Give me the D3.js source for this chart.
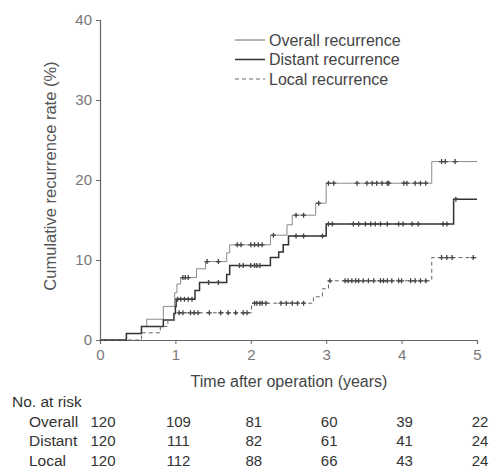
<!DOCTYPE html>
<html><head><meta charset="utf-8">
<script src="https://cdn.jsdelivr.net/npm/d3@7"></script>
<style>
html,body{margin:0;padding:0;background:#fff;}
svg{display:block;font-family:"Liberation Sans",Arial,sans-serif;}
</style></head>
<body><svg id="c" width="489" height="468"></svg>
<script>
// ---- data ----
const yTicks = [0, 10, 20, 30, 40];
const xTicks = [0, 1, 2, 3, 4, 5];
const seriesNames = ["Overall recurrence", "Distant recurrence", "Local recurrence"];

const overallSteps = [[0,0],[0.35,0.8],[0.55,1.7],[0.62,2.6],[0.84,4.2],[0.99,5.9],[1.02,7.0],[1.07,7.8],[1.28,8.9],[1.4,9.8],[1.68,10.9],[1.72,11.9],[2.26,13.1],[2.48,14.4],[2.55,15.6],[2.86,17.1],[3.0,19.6],[4.4,22.3]];
const distantSteps = [[0,0],[0.35,0.8],[0.55,1.7],[0.84,2.5],[0.98,3.3],[1.0,4.2],[1.01,5.1],[1.26,6.2],[1.32,7.2],[1.68,8.2],[1.72,9.3],[2.26,10.3],[2.37,11.0],[2.43,11.9],[2.5,13.0],[3.0,14.5],[4.69,17.6]];
const localSteps = [[0,0],[0.55,0.9],[0.8,1.7],[0.9,2.5],[0.99,3.4],[2.01,4.6],[2.83,5.4],[2.95,6.4],[3.03,7.4],[4.4,10.3]];

const overallCensor = [1.1,1.13,1.17,1.42,1.57,1.82,1.87,2.0,2.05,2.1,2.15,2.3,2.6,2.7,2.9,3.03,3.1,3.41,3.54,3.61,3.67,3.74,3.81,3.83,4.03,4.07,4.18,4.25,4.32,4.53,4.58,4.71];
const distantCensor = [1.03,1.07,1.12,1.17,1.22,1.44,1.57,1.85,1.9,2.0,2.05,2.08,2.12,2.6,2.7,2.95,3.03,3.08,3.36,3.43,3.52,3.59,3.65,3.72,3.81,3.96,4.02,4.14,4.22,4.55,4.6,4.72];
const localCensor = [1.05,1.1,1.2,1.25,1.3,1.45,1.6,1.7,1.8,1.9,1.95,2.05,2.08,2.12,2.15,2.2,2.4,2.47,2.55,2.62,2.7,3.05,3.25,3.29,3.34,3.39,3.43,3.49,3.56,3.63,3.72,3.76,3.81,3.87,3.96,4.0,4.12,4.18,4.25,4.32,4.53,4.6,4.67,4.95];

const riskLabels = ["Overall", "Distant", "Local"];
const riskOverall = [120, 109, 81, 60, 39, 22];
const riskDistant = [120, 111, 82, 61, 41, 24];
const riskLocal = [120, 112, 88, 66, 43, 24];

// ---- drawing ----
const svg = d3.select("#c");
const x = d3.scaleLinear().domain([0, 5]).range([100, 477]);
const y = d3.scaleLinear().domain([0, 40]).range([340, 20]);
const axisCol = "#666", textCol = "#555";

const yAxis = svg.append("g").attr("transform", "translate(100,0)")
  .call(d3.axisLeft(y).tickValues(yTicks).tickFormat(d3.format("d")).tickSize(4).tickPadding(4));
const xAxis = svg.append("g").attr("transform", "translate(0,340)")
  .call(d3.axisBottom(x).tickValues(xTicks).tickFormat(d3.format("d")).tickSize(4).tickPadding(2));
[yAxis, xAxis].forEach(g => {
  g.select(".domain").attr("stroke", axisCol).attr("stroke-width", 1.2);
  g.selectAll(".tick line").attr("stroke", axisCol);
  g.selectAll(".tick text").attr("fill", "#777").style("font-size", "15px").style("font-family", "'Liberation Sans',Arial,sans-serif");
});
xAxis.selectAll(".tick text").attr("dy", "0.95em");

svg.append("text").attr("transform", "translate(56,176) rotate(-90)")
  .attr("text-anchor", "middle").attr("fill", textCol).style("font-size", "16.5px")
  .text("Cumulative recurrence rate (%)");
svg.append("text").attr("x", 289).attr("y", 387).attr("text-anchor", "middle")
  .attr("fill", "#444").style("font-size", "16px").text("Time after operation (years)");

const line = d3.line().x(d => x(d[0])).y(d => y(d[1])).curve(d3.curveStepAfter);
const series = [
  {steps: overallSteps, censor: overallCensor, stroke: "#8a8a8a", w: 1, dash: null},
  {steps: distantSteps, censor: distantCensor, stroke: "#333", w: 1.5, dash: null},
  {steps: localSteps, censor: localCensor, stroke: "#666", w: 1, dash: "4,3"}
];
function valAt(steps, t) {
  let v = 0;
  steps.forEach(s => { if (s[0] <= t) v = s[1]; });
  return v;
}
series.forEach(s => {
  const pts = s.steps.concat([[5, s.steps[s.steps.length - 1][1]]]);
  svg.append("path").datum(pts).attr("d", line).attr("fill", "none")
    .attr("stroke", s.stroke).attr("stroke-width", s.w)
    .attr("stroke-dasharray", s.dash);
  svg.append("g").selectAll("path").data(s.censor).join("path")
    .attr("transform", t => `translate(${x(t)},${y(valAt(s.steps, t))})`)
    .attr("d", "M-2.5,0H2.5M0,-2.5V2.5")
    .attr("stroke", "#444").attr("stroke-width", 1.3).attr("fill", "none");
});

// legend
const leg = svg.append("g");
seriesNames.forEach((n, i) => {
  const yy = 40 + i * 19.5;
  const s = series[i];
  leg.append("line").attr("x1", 235).attr("x2", 265).attr("y1", yy).attr("y2", yy)
    .attr("stroke", i === 0 ? "#666" : s.stroke).attr("stroke-width", s.w)
    .attr("stroke-dasharray", s.dash);
  leg.append("text").attr("x", 269).attr("y", yy + 5.5).attr("fill", "#444")
    .style("font-size", "16px").text(n);
});

// risk table
svg.append("text").attr("x", 12).attr("y", 407).attr("fill", "#333")
  .style("font-size", "15.5px").text("No. at risk");
const riskRows = [riskOverall, riskDistant, riskLocal];
riskRows.forEach((row, i) => {
  const yy = 427 + i * 19.3;
  svg.append("text").attr("x", 29).attr("y", yy).attr("fill", "#333")
    .style("font-size", "15.5px").text(riskLabels[i]);
  svg.append("g").selectAll("text").data(row).join("text")
    .attr("x", (d, j) => Math.min(x(xTicks[j]) + 3, 481))
    .attr("y", yy).attr("text-anchor", "middle").attr("fill", "#333")
    .style("font-size", "15px").text(d => d);
});
</script></body></html>
